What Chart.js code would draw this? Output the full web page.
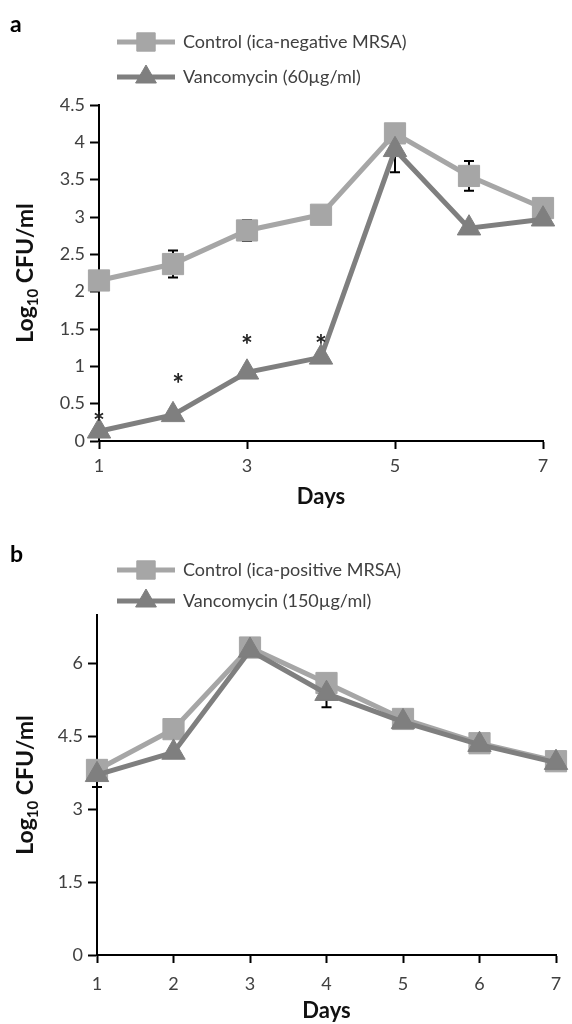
<!DOCTYPE html>
<html><head><meta charset="utf-8">
<script src="https://cdn.jsdelivr.net/npm/chart.js@4"></script>
<style>
html,body{margin:0;padding:0;background:#fff;}
canvas{display:block;}
#wa{position:absolute;left:0;top:0;width:572px;height:520px;}
#wb{position:absolute;left:0;top:520px;width:572px;height:504px;}
</style></head><body>
<div id="wa"><canvas id="ca"></canvas></div>
<div id="wb"><canvas id="cb"></canvas></div>
<script>
// ---- data ----
const days = [1,2,3,4,5,6,7];

const panelA = 'a';
const seriesNamesA = ['Control (ica-negative MRSA)','Vancomycin (60µg/ml)'];
const controlA    = [2.15,2.37,2.82,3.03,4.12,3.55,3.12];
const controlAErr = [0,0.18,0.14,0,0,0.2,0];
const vancoA      = [0.13,0.35,0.92,1.12,3.90,2.85,2.97];
const vancoAErr   = [0,0,0,0,0.3,0,0];
const asteriskDaysA = [1,2.07,3,4];
const asteriskValsA = [0.33,0.84,1.37,1.37];
const yTicksA = [0,0.5,1,1.5,2,2.5,3,3.5,4,4.5];
const xTicksA = [1,3,5,7];

const panelB = 'b';
const seriesNamesB = ['Control (ica-positive MRSA)','Vancomycin (150µg/ml)'];
const controlB    = [3.81,4.65,6.33,5.60,4.86,4.36,3.99];
const controlBErr = [0,0,0,0,0,0,0];
const vancoB      = [3.71,4.17,6.27,5.38,4.80,4.33,3.96];
const vancoBErr   = [0.25,0,0,0.28,0,0,0];
const yTicksB = [0,1.5,3,4.5,6];
const xTicksB = [1,2,3,4,5,6,7];

const xTitle = 'Days';

// ---- styling ----
const C_CTRL = '#a6a6a6';
const C_VAN  = '#7f7f7f';
const TXT = '#404040';
const FONT = 'Lato, "Open Sans", sans-serif';

function pts(vals){ return vals.map((v,i)=>({x:days[i], y:v})); }

const errorBars = {
  id:'errorBars',
  beforeDatasetsDraw(chart){
    const ctx = chart.ctx, xs = chart.scales.x, ys = chart.scales.y;
    ctx.save();
    ctx.strokeStyle = '#000'; ctx.lineWidth = 2;
    chart.data.datasets.forEach(ds=>{
      (ds.errs||[]).forEach((e,i)=>{
        if(!e) return;
        const v = ds.data[i].y, x = xs.getPixelForValue(ds.data[i].x);
        const y1 = ys.getPixelForValue(v+e), y2 = ys.getPixelForValue(v-e);
        ctx.beginPath();
        ctx.moveTo(x,y1); ctx.lineTo(x,y2);
        ctx.moveTo(x-5,y1); ctx.lineTo(x+5,y1);
        ctx.moveTo(x-5,y2); ctx.lineTo(x+5,y2);
        ctx.stroke();
      });
    });
    ctx.restore();
  }
};

const decor = {
  id:'decor',
  afterDraw(chart){
    const o = chart.options.plugins.decor;
    const ctx = chart.ctx, ca = chart.chartArea;
    ctx.save();
    // panel letter
    ctx.fillStyle = '#000';
    ctx.font = 'bold 23px ' + FONT;
    ctx.textBaseline = 'middle'; ctx.textAlign = 'left';
    ctx.fillText(o.letter, 10, o.letterY);
    // legend
    chart.data.datasets.slice().sort((a,b)=>a.legendIdx-b.legendIdx).forEach((ds,k)=>{
      const y = o.legendY[k];
      ctx.strokeStyle = ds.borderColor; ctx.lineWidth = 5;
      ctx.beginPath(); ctx.moveTo(117,y); ctx.lineTo(175,y); ctx.stroke();
      ctx.fillStyle = ds.borderColor; ctx.strokeStyle = ds.borderColor; ctx.lineWidth = 1;
      Chart.helpers.drawPoint(ctx,{pointStyle:ds.pointStyle,rotation:0,radius:ds.legendRadius,borderWidth:1},146,y);
      ctx.fillStyle = TXT;
      ctx.font = '18px ' + FONT;
      ctx.textAlign='left'; ctx.textBaseline='middle';
      ctx.fillText(ds.label, 183, y);
    });
    // asterisks
    if (o.starsX){
      ctx.fillStyle = '#222';
      ctx.font = 'bold 28px ' + FONT;
      ctx.textAlign = 'center'; ctx.textBaseline='alphabetic';
      const m = ctx.measureText('*');
      const off = (m.actualBoundingBoxAscent - m.actualBoundingBoxDescent)/2;
      o.starsX.forEach((d,i)=>{
        ctx.fillText('*', chart.scales.x.getPixelForValue(d), chart.scales.y.getPixelForValue(o.starsY[i]) + off);
      });
    }
    // x title
    ctx.fillStyle = '#111';
    ctx.font = 'bold 22px ' + FONT;
    ctx.textAlign='center'; ctx.textBaseline='middle';
    ctx.fillText(xTitle, (ca.left+ca.right)/2, o.xTitleY);
    // y title with subscript
    const big = 'bold 23px ' + FONT, small = 'bold 15px ' + FONT;
    ctx.font = big; const w1 = ctx.measureText('Log').width, w3 = ctx.measureText(' CFU/ml').width;
    ctx.font = small; const w2 = ctx.measureText('10').width;
    const tot = w1+w2+w3;
    ctx.translate(33, (ca.top+ca.bottom)/2);
    ctx.rotate(-Math.PI/2);
    ctx.textAlign='left'; ctx.textBaseline='alphabetic';
    let x = -tot/2;
    ctx.font = big; ctx.fillText('Log', x, 0); x += w1;
    ctx.font = small; ctx.fillText('10', x, 5); x += w2;
    ctx.font = big; ctx.fillText(' CFU/ml', x, 0);
    ctx.restore();
  }
};

function makeChart(id, names, ctrl, ctrlErr, van, vanErr, yTicks, xTicks, yMax, pad, yW, xH, xPad, deco){
  return new Chart(document.getElementById(id), {
    type:'line',
    data:{datasets:[
      {label:names[0], data:pts(ctrl), errs:ctrlErr, legendIdx:0, order:2,
       borderColor:C_CTRL, backgroundColor:C_CTRL, borderWidth:5,
       pointStyle:'rect', pointRadius:15, pointHoverRadius:15, pointBorderWidth:1,
       pointBackgroundColor:C_CTRL, pointBorderColor:C_CTRL, legendRadius:13, clip:false, tension:0},
      {label:names[1], data:pts(van), errs:vanErr, legendIdx:1, order:1,
       borderColor:C_VAN, backgroundColor:C_VAN, borderWidth:5,
       pointStyle:'triangle', pointRadius:13.5, pointHoverRadius:13.5, pointBorderWidth:1,
       pointBackgroundColor:C_VAN, pointBorderColor:C_VAN, legendRadius:12, clip:false, tension:0}
    ]},
    options:{
      responsive:true, maintainAspectRatio:false, animation:false,
      layout:{padding:pad},
      plugins:{legend:{display:false}, tooltip:{enabled:false}, decor:deco},
      scales:{
        x:{type:'linear', min:1, max:7,
           afterBuildTicks(s){ s.ticks = xTicks.map(v=>({value:v})); },
           afterFit(s){ s.height = xH; },
           ticks:{color:TXT, font:{family:FONT,size:18}, padding:xPad, maxRotation:0, autoSkip:false},
           grid:{display:true, drawOnChartArea:false, drawTicks:true, tickLength:8, tickColor:'#000', tickWidth:2},
           border:{display:true, color:'#000', width:2}},
        y:{type:'linear', min:0, max:yMax,
           afterBuildTicks(s){ s.ticks = yTicks.map(v=>({value:v})); },
           afterFit(s){ s.width = yW; },
           ticks:{color:TXT, font:{family:FONT,size:18}, padding:5, autoSkip:false,
                  callback:(v)=>String(v)},
           grid:{display:true, drawOnChartArea:false, drawTicks:true, tickLength:9, tickColor:'#000', tickWidth:2},
           border:{display:true, color:'#000', width:2}}
      }
    },
    plugins:[errorBars, decor]
  });
}

makeChart('ca', seriesNamesA, controlA, controlAErr, vancoA, vancoAErr, yTicksA, xTicksA, 4.5,
  {left:0, right:29, top:105, bottom:0}, 99, 79, 6,
  {letter:panelA, letterY:25, legendY:[42,77], starsX:asteriskDaysA, starsY:asteriskValsA, xTitleY:497});

makeChart('cb', seriesNamesB, controlB, controlBErr, vancoB, vancoBErr, yTicksB, xTicksB, 7,
  {left:0, right:8, top:95, bottom:0}, 97, 69, 10,
  {letter:panelB, letterY:35, legendY:[50,81], xTitleY:491});
</script>
</body></html>
